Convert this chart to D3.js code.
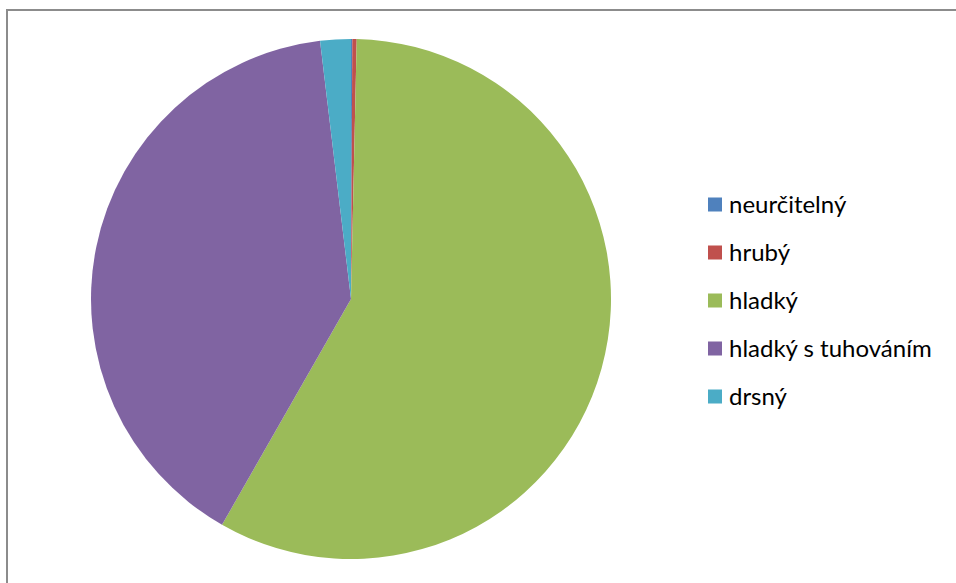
<!DOCTYPE html>
<html>
<head>
<meta charset="utf-8">
<script src="https://cdn.jsdelivr.net/npm/d3@7"></script>
<style>
  html, body { margin: 0; padding: 0; background: #fff; }
  svg { display: block; }
</style>
</head>
<body>
<svg id="chart" width="956" height="583"></svg>
<script>
// Categories, shares (%) and colours for the pie
const categories = ["neurčitelný", "hrubý", "hladký", "hladký s tuhováním", "drsný"];
const values = [0.08, 0.27, 57.91, 39.84, 1.9];
const colors = ["#4f81bd", "#c0504d", "#9bbb59", "#8064a2", "#4bacc6"];

const svg = d3.select("#chart");
const W = 956, H = 583;

// Chart area frame
svg.append("rect")
  .attr("x", 7).attr("y", 10)
  .attr("width", W + 20).attr("height", H + 20)
  .attr("fill", "#fff")
  .attr("stroke", "#8c8c8c")
  .attr("stroke-width", 2);

const cx = 351, cy = 299, radius = 260;

const data = categories.map((c, i) => ({ name: c, value: values[i], color: colors[i] }));

const pie = d3.pie().value(d => d.value).sort(null);
const arc = d3.arc().innerRadius(0).outerRadius(radius);

const g = svg.append("g").attr("transform", `translate(${cx},${cy})`);
g.selectAll("path")
  .data(pie(data))
  .join("path")
  .attr("d", arc)
  .attr("fill", d => d.data.color);

// Legend
const legendX = 708, legendY0 = 204.5, legendStep = 48;
const color = d3.scaleOrdinal().domain(categories).range(colors);
const leg = svg.append("g");
const rows = leg.selectAll("g")
  .data(categories)
  .join("g")
  .attr("transform", (d, i) => `translate(${legendX},${legendY0 + i * legendStep})`);
rows.append("rect")
  .attr("x", 0).attr("y", -7)
  .attr("width", 14).attr("height", 14)
  .attr("fill", d => color(d));
rows.append("text")
  .attr("x", 21).attr("y", 0)
  .attr("dy", "0.35em")
  .attr("font-family", "Lato, 'Open Sans', sans-serif")
  .attr("font-size", 24)
  .attr("font-weight", 400)
  .attr("fill", "#000")
  .text(d => d);
</script>
</body>
</html>
